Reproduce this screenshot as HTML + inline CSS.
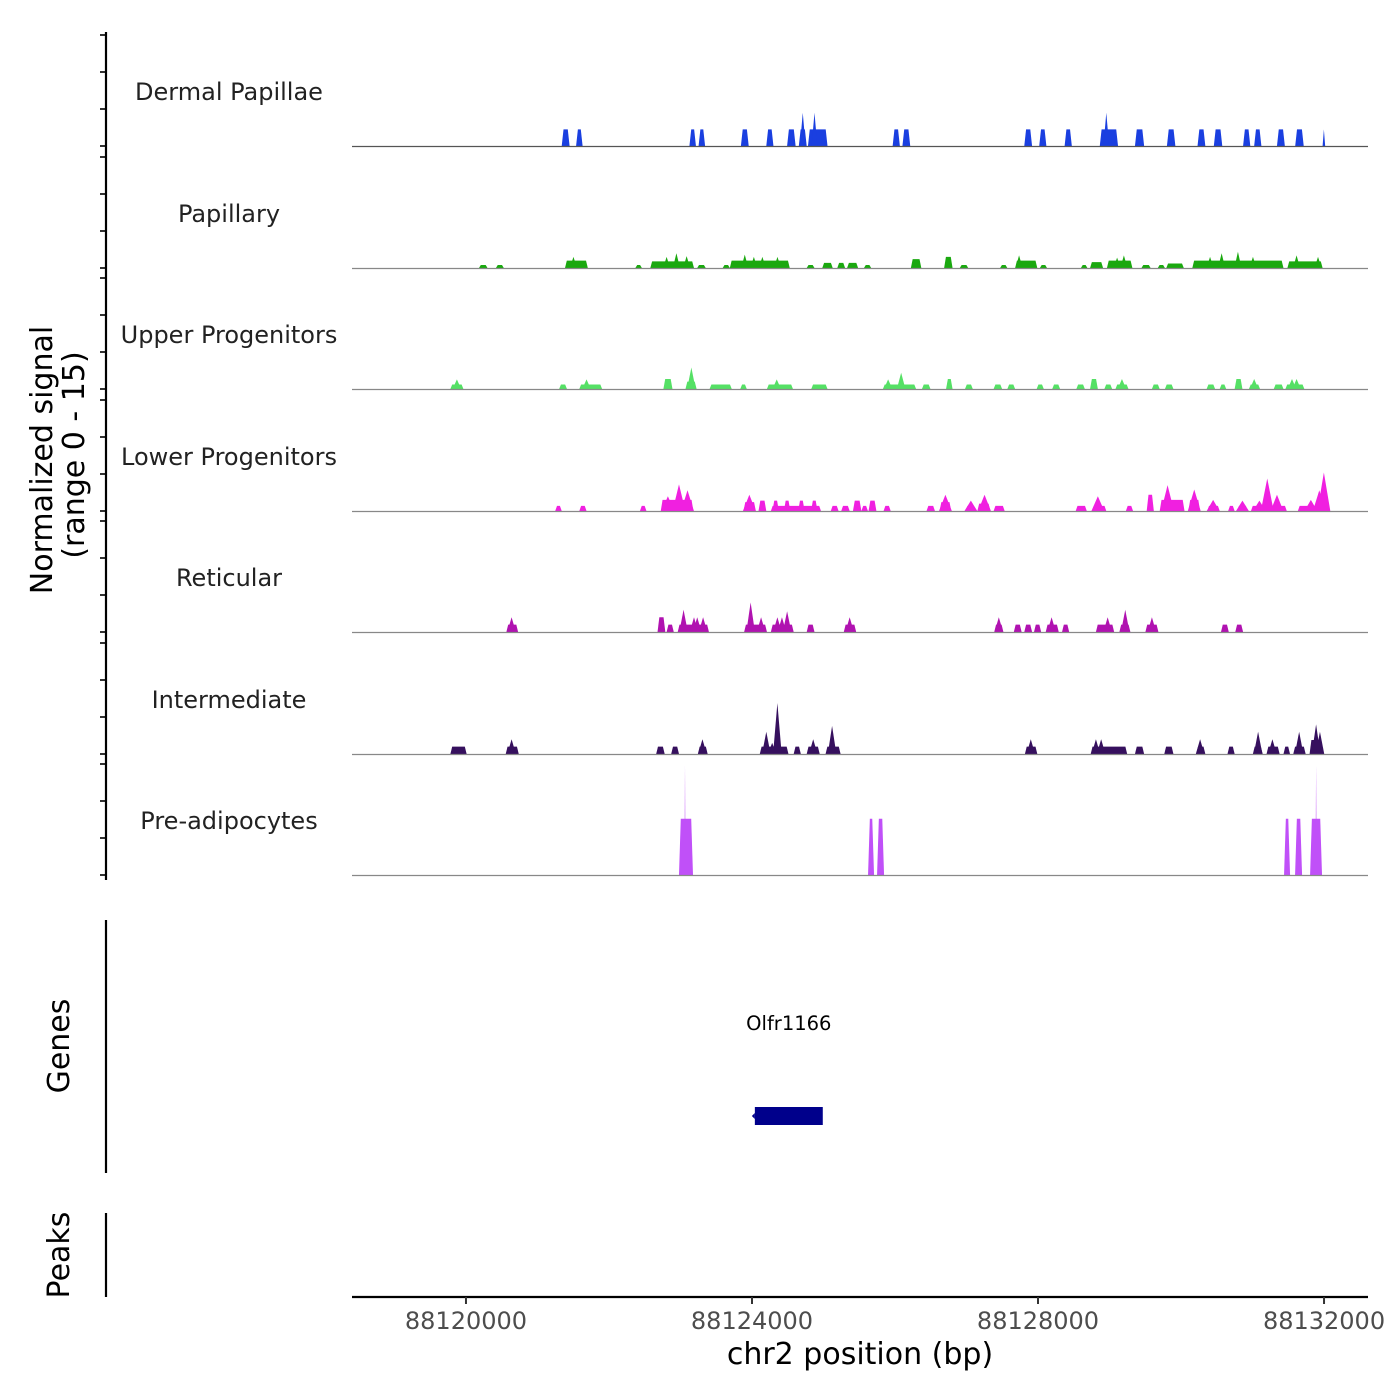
<!DOCTYPE html>
<html><head><meta charset="utf-8"><style>
html,body{margin:0;padding:0;background:#fff;}
svg{display:block;font-family:"DejaVu Sans","Liberation Sans",sans-serif;}
</style></head><body>
<svg id="chart" width="1400" height="1400" viewBox="0 0 1400 1400">
<g id="tracks"></g>
<g id="axes"></g>
</svg>
<script>
// ---- data (positions are bp offsets from region start 88118406) ----
const regionStart = 88118406;
const regionEnd = 88132615;
const xTicks = [88120000, 88124000, 88128000, 88132000];
const trackNames = ["Dermal Papillae","Papillary","Upper Progenitors","Lower Progenitors","Reticular","Intermediate","Pre-adipocytes"];
const trackColors = ["#1a3fe0","#1aa80f","#55e065","#f020e0","#b012b0","#36105e","#c050f8"];
const yMax = 15;

const dpSegments = [[2933,3043,2.25],[3134,3225,2.25],[4719,4810,2.25],[4847,4938,2.25],[5439,5548,2.25],[5794,5894,2.25],[6085,6204,2.25],[6249,6359,2.25],[6377,6650,2.25],[7561,7662,2.25],[7698,7807,2.25],[9402,9511,2.25],[9611,9711,2.25],[9966,10067,2.25],[10458,10713,2.25],[10950,11078,2.25],[11397,11515,2.25],[11825,11934,2.25],[12053,12171,2.25],[12462,12563,2.25],[12617,12718,2.25],[12936,13046,2.25],[13191,13310,2.25],[13574,13610,2.25]];
const dpSpikes = [[6304,4.5],[6468,4.5],[10549,4.5]];

const papSegments = [[1776,1895,0.4],[2013,2123,0.4],[2979,3298,1.0],[3963,4054,0.4],[4172,4783,0.9],[4828,4947,0.4],[5184,5284,0.4],[5284,6122,1.0],[6359,6468,0.4],[6577,6723,0.7],[6787,6896,0.7],[6924,7078,0.7],[7160,7261,0.4],[7816,7962,1.2],[8281,8399,1.5],[8500,8618,0.4],[9064,9165,0.4],[9274,9584,1.0],[9620,9720,0.4],[10194,10285,0.4],[10322,10504,0.8],[10558,10914,1.0],[11041,11169,0.4],[11269,11369,0.4],[11388,11633,0.6],[11752,13027,1.0],[13082,13574,0.9]];
const papSpikes = [[3097,1.5],[4400,1.5],[4537,2.0],[4680,1.6],[5493,1.8],[5620,1.5],[5739,1.5],[5950,1.5],[9329,1.7],[10795,1.7],[10700,1.4],[12000,1.5],[12162,2.0],[12390,2.2],[12600,1.5],[13210,1.7],[13510,1.5]];

const upSegments = [[1376,1558,0.6],[2897,3006,0.6],[3179,3498,0.6],[4355,4482,1.35],[4664,4819,1.0],[5001,5311,0.6],[5430,5521,0.6],[5803,6167,0.6],[6423,6650,0.6],[7425,7889,0.6],[7971,8090,0.6],[8308,8399,1.35],[8573,8682,0.6],[8973,9092,0.6],[9165,9274,0.6],[9575,9675,0.6],[9793,9903,0.6],[10130,10249,0.6],[10322,10431,1.35],[10522,10631,0.6],[10677,10859,0.6],[11187,11296,0.6],[11369,11488,0.6],[11952,12071,0.6],[12135,12226,0.6],[12344,12453,1.35],[12544,12699,0.6],[12891,13027,0.6],[13054,13319,0.6]];
const upSpikes = [[1467,1.3],[3280,1.3],[4746,2.9],[5940,1.3],[7498,1.3],[7680,2.2],[10768,1.35],[12617,1.35],[13146,1.35],[13210,1.35]];

const lpSegments = [[2842,2933,0.7],[3179,3280,0.7],[4027,4118,0.7],[4318,4774,1.5],[5475,5648,1.2],[5685,5794,1.4],[5858,6559,0.7],[5880,5970,1.4],[6040,6130,1.4],[6240,6330,1.4],[6420,6510,1.4],[6696,6805,0.7],[6842,6960,0.7],[7006,7124,1.4],[7124,7215,0.7],[7224,7334,1.4],[7434,7534,0.7],[8035,8153,0.7],[8217,8381,1.2],[8582,8718,0.7],[8746,8928,1.0],[8973,9128,0.7],[10121,10276,0.7],[10349,10549,0.7],[10823,10923,0.7],[11114,11214,2.2],[11296,11643,1.5],[11697,11861,1.5],[11961,12135,0.7],[12253,12344,0.7],[12380,12526,0.7],[12572,13073,0.7],[13228,13601,0.7]];
const lpSpikes = [[4418,2.0],[4573,3.6],[4692,2.8],[5557,2.2],[8299,2.2],[8655,1.4],[8846,2.2],[10431,2.0],[11406,3.5],[11779,2.9],[12043,1.5],[12453,1.4],[12690,1.4],[12800,4.4],[12936,2.2],[13410,1.5],[13528,2.8],[13592,5.2]];

const retSegments = [[2159,2323,1.0],[4273,4382,2.0],[4400,4500,1.0],[4555,4992,1.0],[5484,5803,1.0],[5858,6177,1.0],[6359,6468,1.0],[6878,7051,1.0],[8982,9110,1.0],[9256,9365,1.0],[9402,9511,1.0],[9538,9638,1.0],[9702,9884,1.0],[9930,10030,1.0],[10404,10659,1.0],[10732,10886,1.0],[11096,11278,1.0],[12153,12262,1.0],[12353,12462,1.0]];
const retSpikes = [[2232,2.0],[4637,3.0],[4783,2.0],[4828,2.0],[4910,2.0],[5575,4.0],[5721,2.0],[5949,2.0],[6013,2.0],[6085,2.8],[6960,2.0],[9046,2.0],[9784,2.0],[10568,2.0],[10814,3.0],[11187,2.0]];

const intSegments = [[1376,1603,1.0],[2150,2332,1.0],[4254,4373,1.0],[4464,4573,1.0],[4837,4974,1.0],[5703,6104,1.0],[6177,6277,1.0],[6359,6541,1.0],[6623,6833,1.0],[9411,9584,1.0],[10331,10841,1.0],[10950,11078,1.0],[11360,11488,1.0],[11807,11934,1.0],[12244,12344,1.0],[12599,12736,1.0],[12790,12973,1.0],[13027,13118,1.0],[13164,13337,1.0],[13392,13574,1.9]];
const intSpikes = [[2232,2.0],[4901,2.0],[5794,3.0],[5876,1.5],[5949,6.9],[6450,2.0],[6714,3.8],[9493,2.0],[10404,2.0],[10477,2.0],[11861,2.0],[12672,3.0],[12872,2.0],[13246,3.0],[13483,4.0],[13537,3.0]];

const preSegments = [[4573,4769,7.6],[7217,7301,7.6],[7343,7441,7.6],[13035,13119,7.6],[13189,13287,7.6],[13399,13566,7.6]];
const preSpikes = [[4657,14.9],[13483,14.9]];

const geneName = "Olfr1166";
const geneStart = 88124040;
const geneEnd = 88124990;

// ---- layout ----
const NS="http://www.w3.org/2000/svg";
const plotL=352, plotR=1368;
const baselines=[146,268,389,511,632,754,875];
const trackH=111;
function xScale(bp){return plotL+(bp-regionStart)/(regionEnd-regionStart)*(plotR-plotL);}
function yScale(v,b){return b - v/yMax*trackH;}
function mk(tag,attrs,parent){const e=document.createElementNS(NS,tag);for(const k in attrs)e.setAttribute(k,attrs[k]);parent.appendChild(e);return e;}

const tracks=document.getElementById('tracks');
const axes=document.getElementById('axes');
const allSeg=[dpSegments,papSegments,upSegments,lpSegments,retSegments,intSegments,preSegments];
const allSpk=[dpSpikes,papSpikes,upSpikes,lpSpikes,retSpikes,intSpikes,preSpikes];
const spikeHalf=[40,50,60,90,60,60,8];

trackNames.forEach((name,i)=>{
  const b=baselines[i];
  const g=mk('g',{},tracks);
  
  
  const lbl=mk('text',{x:229,y:b-46,'text-anchor':'middle','font-size':24,fill:'#222'},g);
  lbl.textContent=name;
  
  
  allSeg[i].forEach(s=>{
    const off0=regionStart+s[0], off1=regionStart+s[1];
    const x0=xScale(off0), x1=xScale(off1), yt=yScale(s[2],b);
    const r=Math.min(1.8,(x1-x0)/2);
    const p=mk('polygon',{points:`${x0},${b} ${x0+r},${yt} ${x1-r},${yt} ${x1},${b}`,fill:trackColors[i]},g);
    
    
  });
  allSpk[i].forEach(s=>{
    const c=regionStart+s[0];
    const xa=xScale(c-spikeHalf[i]), xc=xScale(c), xb=xScale(c+spikeHalf[i]);
    const p=mk('polygon',{points:`${xa},${b} ${xc},${yScale(s[1],b)} ${xb},${b}`,fill:trackColors[i]},g);
    
    
  });
  const bl=mk('line',{x1:plotL,x2:plotR,y1:b+0.5,y2:b+0.5,stroke:i==0?'#555':'#888','stroke-width':1.2},g);
  
  
  [0,5,10,15].forEach(v=>{
    const t=mk('line',{x1:100,x2:106,y1:yScale(v,b),y2:yScale(v,b),stroke:'#333','stroke-width':2},axes);
    
    
  });
});

const ya=mk('line',{x1:106,x2:106,y1:32,y2:880,stroke:'#000','stroke-width':2.2},axes);


const yt1=mk('text',{x:0,y:0,'text-anchor':'middle','font-size':30,fill:'#000',transform:'translate(52,460) rotate(-90)'},axes);
yt1.textContent='Normalized signal';


const yt2=mk('text',{x:0,y:0,'text-anchor':'middle','font-size':30,fill:'#000',transform:'translate(84,455) rotate(-90)'},axes);
yt2.textContent='(range 0 - 15)';



const ga=mk('line',{x1:106,x2:106,y1:920,y2:1173,stroke:'#000','stroke-width':2.2},axes);


const gt=mk('text',{x:0,y:0,'text-anchor':'middle','font-size':30,fill:'#000',transform:'translate(69,1046) rotate(-90)'},axes);
gt.textContent='Genes';


const gx0=xScale(geneStart), gx1=xScale(geneEnd);
const gb=mk('rect',{x:gx0,y:1107,width:gx1-gx0,height:18,fill:'#00008b'},axes);


const ga2=mk('polygon',{points:`${gx0-3},1116 ${gx0},1113 ${gx0},1119`,fill:'#00008b'},axes);


const gl=mk('text',{x:(gx0+gx1)/2,y:1030,'text-anchor':'middle','font-size':19.5,fill:'#000'},axes);
gl.textContent=geneName;



const pa=mk('line',{x1:106,x2:106,y1:1213,y2:1297,stroke:'#000','stroke-width':2.2},axes);


const pt=mk('text',{x:0,y:0,'text-anchor':'middle','font-size':30,fill:'#000',transform:'translate(69,1255) rotate(-90)'},axes);
pt.textContent='Peaks';



const xa=mk('line',{x1:plotL,x2:plotR,y1:1297,y2:1297,stroke:'#000','stroke-width':2.2},axes);


xTicks.forEach(t=>{
  const x=xScale(t);
  const tk=mk('line',{x1:x,x2:x,y1:1297,y2:1304,stroke:'#333','stroke-width':2},axes);
  
  
  const tl=mk('text',{x:x,y:1329,'text-anchor':'middle','font-size':24,fill:'#4d4d4d'},axes);
  tl.textContent=String(t);
  
  
});
const xt=mk('text',{x:860,y:1364,'text-anchor':'middle','font-size':30,fill:'#000'},axes);
xt.textContent='chr2 position (bp)';


</script>
</body></html>
